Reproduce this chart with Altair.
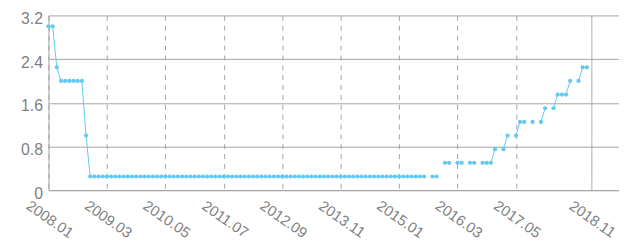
import altair as alt
import pandas as pd

# tick labels on the x axis (month index from 2008.01) and their texts
tick_months = [0, 14, 28, 42, 56, 70, 84, 98, 112, 130]
tick_labels = ["2008.01", "2009.03", "2010.05", "2011.07", "2012.09",
               "2013.11", "2015.01", "2016.03", "2017.05", "2018.11"]

# monthly values, one row per year (None = no data for that month)
y2008 = [3.0, 3.0, 2.25, 2.0, 2.0, 2.0, 2.0, 2.0, 2.0, 1.0, 0.25, 0.25]
y2009 = [0.25, 0.25, 0.25, 0.25, 0.25, 0.25, 0.25, 0.25, 0.25, 0.25, 0.25, 0.25]
y2010 = [0.25, 0.25, 0.25, 0.25, 0.25, 0.25, 0.25, 0.25, 0.25, 0.25, 0.25, 0.25]
y2011 = [0.25, 0.25, 0.25, 0.25, 0.25, 0.25, 0.25, 0.25, 0.25, 0.25, 0.25, 0.25]
y2012 = [0.25, 0.25, 0.25, 0.25, 0.25, 0.25, 0.25, 0.25, 0.25, 0.25, 0.25, 0.25]
y2013 = [0.25, 0.25, 0.25, 0.25, 0.25, 0.25, 0.25, 0.25, 0.25, 0.25, 0.25, 0.25]
y2014 = [0.25, 0.25, 0.25, 0.25, 0.25, 0.25, 0.25, 0.25, 0.25, 0.25, 0.25, 0.25]
y2015 = [0.25, 0.25, 0.25, 0.25, 0.25, 0.25, 0.25, None, 0.25, 0.25, None, 0.5]
y2016 = [0.5, None, 0.5, 0.5, None, 0.5, 0.5, None, 0.5, 0.5, 0.5, 0.75]
y2017 = [None, 0.75, 1.0, None, 1.0, 1.25, 1.25, None, 1.25, None, 1.25, 1.5]
y2018 = [None, 1.5, 1.75, 1.75, 1.75, 2.0, None, 2.0, 2.25, 2.25]

values = y2008 + y2009 + y2010 + y2011 + y2012 + y2013 + y2014 + y2015 + y2016 + y2017 + y2018

rows = []
seg = 0
prev_none = True
for i, v in enumerate(values):
    if v is None:
        prev_none = True
        continue
    if prev_none:
        seg += 1
    prev_none = False
    rows.append({"m": i, "v": v, "seg": seg})
df = pd.DataFrame(rows)

LINE = "#62c9f2"
GRID = "#a3a3a3"
LABEL = "#808080"
FONT = "Liberation Sans"

idx = "[" + ",".join(str(t) for t in tick_months) + "]"
labs = "[" + ",".join("'" + t + "'" for t in tick_labels) + "]"

x = alt.X("m:Q",
          scale=alt.Scale(domain=[0, 136.7], nice=False, zero=False),
          axis=alt.Axis(values=tick_months,
                        labelExpr=labs + "[indexof(" + idx + ", datum.value)]",
                        title=None, ticks=False, tickSize=0,
                        labelAngle=35, labelAlign="center", labelBaseline="middle",
                        labelPadding=29, labelOffset=1, labelFontSize=15, labelColor=LABEL,
                        labelFont=FONT, labelOverlap=False, labelFlush=False,
                        domainColor=GRID, domainWidth=1,
                        grid=True, gridColor=GRID, gridWidth=1,
                        gridDash={"condition": {"test": "datum.value == 130", "value": [1, 0]},
                                  "value": [5, 5]}))
y = alt.Y("v:Q",
          scale=alt.Scale(domain=[0, 3.2], nice=False),
          axis=alt.Axis(values=[0, 0.8, 1.6, 2.4, 3.2], format=".1~f",
                        title=None, ticks=False, tickSize=0, labelPadding=6,
                        labelOffset=3,
                        labelFontSize=16, labelColor=LABEL, labelFont=FONT,
                        domainColor=GRID, domainWidth=1,
                        grid=True, gridColor=GRID, gridWidth=1))

base = alt.Chart(df)
line = base.mark_line(color=LINE, strokeWidth=1).encode(x=x, y=y, detail="seg:N")
pts = base.mark_point(filled=True, color=LINE, size=18, opacity=1).encode(x=x, y=y)

chart = (line + pts).properties(
    width=578, height=177,
    padding={"left": 41, "top": 6, "right": 0, "bottom": 52},
    autosize="none",
).configure_view(strokeWidth=0)

chart.save("out.html", embed_options={"renderer": "svg", "actions": False})
